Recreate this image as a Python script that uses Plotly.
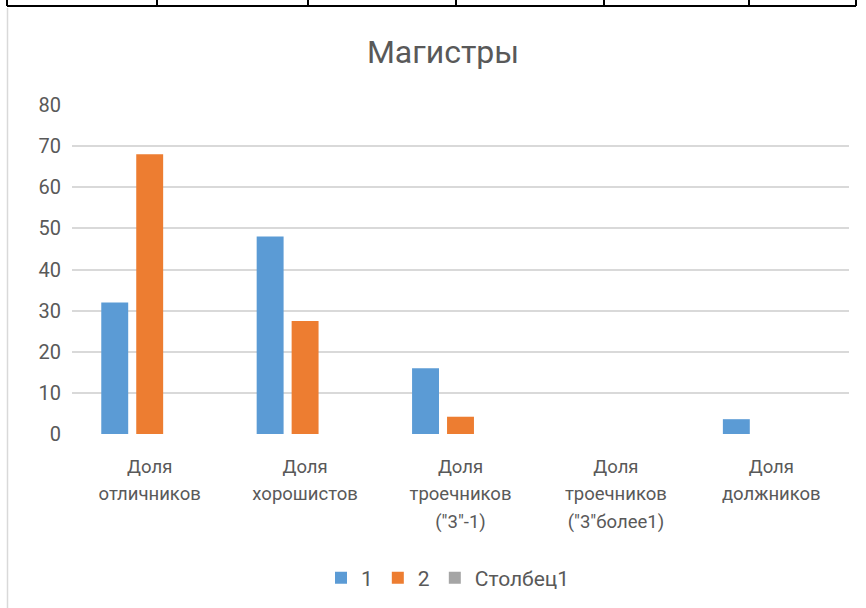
import plotly.graph_objects as go

W, H = 866, 608

categories = [
    "Доля<br>отличников",
    "Доля<br>хорошистов",
    "Доля<br>троечников<br>(\"3\"-1)",
    "Доля<br>троечников<br>(\"3\"более1)",
    "Доля<br>должников",
]
series_names = ["1", "2", "Столбец1"]
values_1 = [32, 48, 16, None, 3.6]
values_2 = [68, 27.5, 4.2, None, None]
values_3 = [None, None, None, None, None]
y_ticks = [0, 10, 20, 30, 40, 50, 60, 70, 80]

colors = ["#5B9BD5", "#ED7D31", "#A5A5A5"]
FONT = "Roboto"
TXT = "#595959"

fig = go.Figure()
for name, vals, col in zip(series_names, [values_1, values_2, values_3], colors):
    fig.add_trace(go.Bar(x=categories, y=vals, name=name, marker=dict(color=col, line=dict(width=0))))

# tick labels: smaller glyphs, Excel-like wide line spacing
tick_text = ["<br>".join('<span style="font-size:18.5px">%s</span>' % part for part in c.split("<br>"))
             for c in categories]

def px(x):
    return x / W

def py(y):
    return 1 - y / H

shapes = []
# table border at top
shapes.append(dict(type="line", xref="paper", yref="paper", x0=px(7), x1=px(856), y0=py(6), y1=py(6),
                   line=dict(color="black", width=2)))
for xv in [7, 157, 308, 456, 604, 749, 856]:
    shapes.append(dict(type="line", xref="paper", yref="paper", x0=px(xv), x1=px(xv), y0=py(0), y1=py(6),
                       line=dict(color="black", width=2)))
# chart frame left edge
shapes.append(dict(type="line", xref="paper", yref="paper", x0=px(7.5), x1=px(7.5), y0=py(8), y1=py(608),
                   line=dict(color="#d9d9d9", width=1.5)))

fig.update_layout(
    width=W, height=H,
    margin=dict(l=0, r=0, t=0, b=0, autoexpand=False),
    paper_bgcolor="white", plot_bgcolor="white",
    font=dict(family=FONT, color=TXT),
    title=dict(text="Магистры", x=px(443), xanchor="center", y=py(52), yanchor="middle",
               font=dict(family=FONT, size=32, color=TXT)),
    barmode="group", bargap=0.325, bargroupgap=0.23,
    showlegend=True,
    legend=dict(orientation="h", x=px(448), xanchor="center", y=py(578), yanchor="middle",
                font=dict(family=FONT, size=21, color=TXT), traceorder="normal"),
    xaxis=dict(domain=[px(72), px(849)], showgrid=False, showline=False, ticks="", automargin=False,
               tickmode="array", tickvals=categories, ticktext=tick_text,
               tickfont=dict(family=FONT, size=21.5, color=TXT), ticklabelstandoff=16),
    yaxis=dict(domain=[py(434), py(105)], range=[0, 80], tickvals=y_ticks, showgrid=True, automargin=False,
               gridcolor="#d9d9d9", gridwidth=1.5, zeroline=False, showline=False, ticks="",
               tickfont=dict(family=FONT, size=20, color=TXT), ticklabelstandoff=10),
    shapes=shapes,
)

fig.write_html("out.html", config={"displayModeBar": False},
               post_script="document.body.style.margin='0px';document.body.style.overflow='hidden';")
